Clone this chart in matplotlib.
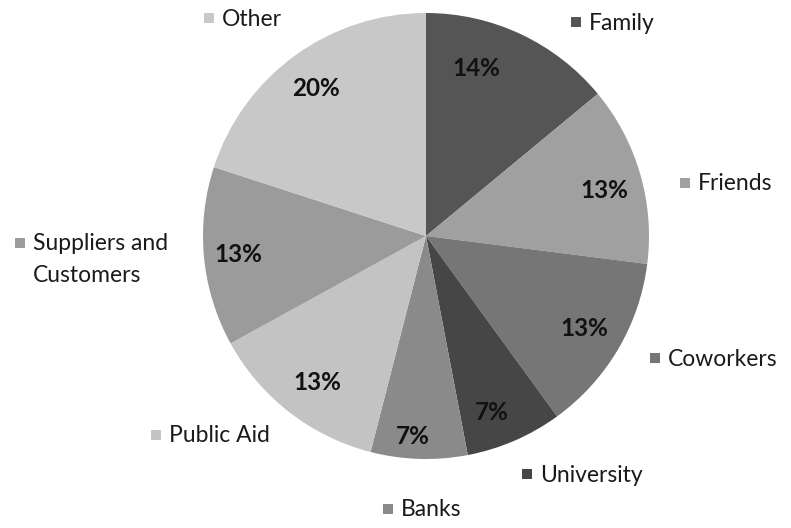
import matplotlib
matplotlib.use("Agg")
import matplotlib.pyplot as plt

plt.rcParams['font.family'] = ['Lato', 'DejaVu Sans']

# slices, clockwise from 12 o'clock
labels = ["Family", "Friends", "Coworkers", "University", "Banks",
          "Public Aid", "Suppliers and\nCustomers", "Other"]
shares = [14, 13, 13, 7, 7, 13, 13, 20]
colors = ["#555555", "#a0a0a0", "#767676", "#464646", "#8a8a8a",
          "#c3c3c3", "#9b9b9b", "#c8c8c8"]

W, H = 791, 528
CX, CY, R = 426, 236, 223

# layout (pixel coords, y from top): percent label centres, legend square centres
pct_pos = [(476, 68), (604, 191), (584, 328), (492, 412), (413, 436),
           (317, 383), (238, 255), (316, 89)]
key_pos = [(576, 22), (685, 183), (655, 358), (527, 474), (388, 509),
           (156, 435), (20, 243), (209, 18)]

fig = plt.figure(figsize=(W / 100, H / 100), dpi=100)
ax = fig.add_axes([0, 0, 1, 1])

ax.pie(shares, colors=colors, startangle=90, counterclock=False,
       center=(CX, H - CY), radius=R, frame=True,
       wedgeprops=dict(linewidth=0))
ax.set_xlim(0, W)
ax.set_ylim(0, H)
ax.set_aspect("equal")
ax.axis("off")

for s, (px, py) in zip(shares, pct_pos):
    ax.text(px, H - py, f"{s}%", ha="center", va="center",
            fontsize=17.5, fontweight="bold", color="#111111")

for lab, col, (kx, ky) in zip(labels, colors, key_pos):
    ax.add_patch(plt.Rectangle((kx - 5, H - ky - 5), 10, 10,
                               facecolor=col, edgecolor="none"))
    for k, line in enumerate(lab.split("\n")):
        ax.text(kx + 13, H - ky - 1 - 32 * k, line,
                ha="left", va="center", fontsize=16.5, color="#1a1a1a")

fig.savefig("out.png", dpi=100)
